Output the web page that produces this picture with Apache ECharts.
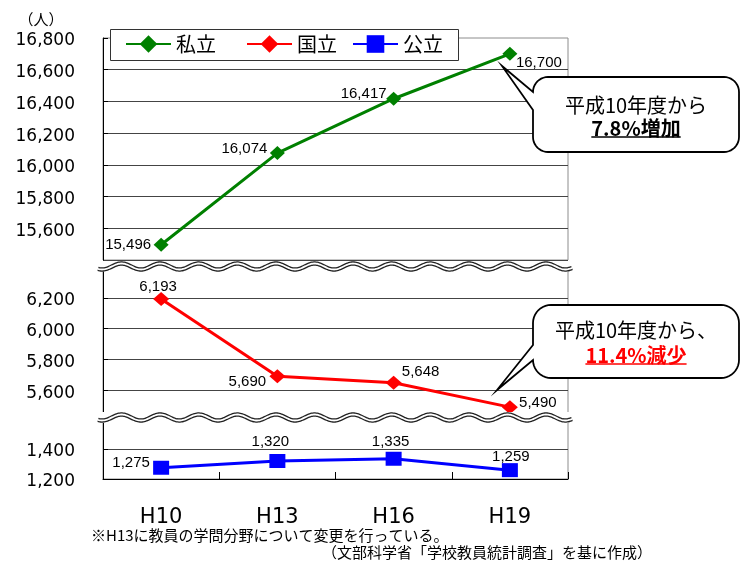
<!DOCTYPE html>
<html>
<head>
<meta charset="utf-8">
<script src="https://cdn.jsdelivr.net/npm/echarts@6/dist/echarts.min.js"></script>
<style>
  html, body { margin: 0; padding: 0; background: #fff; }
  #chart { width: 746px; height: 561px; }
</style>
</head>
<body>
<div id="chart"></div>
<script>
// ---- data ----
const categories = ['H10', 'H13', 'H16', 'H19'];
const seriesNames = ['私立', '国立', '公立'];
const privateValues = [15496, 16074, 16417, 16700];
const nationalValues = [6193, 5690, 5648, 5490];
const publicValues = [1275, 1320, 1335, 1259];

// value ranges of the three segments of the broken axis
const upperRange = [15400, 16800];
const middleRange = [5400, 6400];
const lowerRange = [1200, 1600];
const tickStep = 200;

const unitLabel = '（人）';
const noteLine1 = '※H13に教員の学問分野について変更を行っている。';
const noteLine2 = '（文部科学省「学校教員統計調査」を基に作成）';
const calloutUp = ['平成10年度から', '7.8%増加'];
const calloutDown = ['平成10年度から、', '11.4%減少'];

// ---- styling ----
const COLORS = ['#008000', '#ff0000', '#0000ff'];
const JP = '"Noto Sans CJK JP", sans-serif';
const NUM = '"Liberation Sans", Arial, sans-serif';
const AXNUM = '"DejaVu Sans", sans-serif';

// label placement (offset of each value label from its marker)
const privateLabelOffsets = [[-33, 0], [-33, -4], [-30, -5], [29, 9]];
const nationalLabelOffsets = [[-3, -12], [-30, 6], [27, -11], [28, -4]];
const publicLabelOffsets = [[-30, -5], [-7, -19], [-3, -17], [1, -13]];

// left edge of each legend entry inside the legend box
const legendLefts = [125, 246, 352];

const fmt = v => Number(v).toLocaleString('en-US');

const PLOT_LEFT = 103, PLOT_WIDTH = 465;
const grids = [
  { left: PLOT_LEFT, top: 38, width: PLOT_WIDTH, height: 222 },
  { left: PLOT_LEFT, top: 267, width: PLOT_WIDTH, height: 154 },
  { left: PLOT_LEFT, top: 419, width: PLOT_WIDTH, height: 60 }
].map(g => Object.assign(g, { show: true, borderColor: '#8c8c8c', borderWidth: 1 }));

function yLabel(extra) {
  return Object.assign({
    fontFamily: AXNUM, fontSize: 17, color: '#000', margin: 28,
    formatter: v => '{v|' + fmt(v) + '}',
    rich: { v: { fontFamily: AXNUM, fontSize: 17, color: '#000', padding: [6, 0, 0, 0] } }
  }, extra);
}

function yAxisFor(idx, range, opts) {
  return Object.assign({
    type: 'value', gridIndex: idx, min: range[0], max: range[1], interval: tickStep,
    axisLine: { show: true, lineStyle: { color: '#000', width: 1 } },
    axisTick: { show: true, inside: true, length: 5, lineStyle: { color: '#000' } },
    splitLine: { show: true, lineStyle: { color: '#444', width: 1 } },
    axisLabel: yLabel({})
  }, opts);
}

function xAxisFor(idx, visible) {
  return {
    type: 'category', gridIndex: idx, data: categories, boundaryGap: true,
    axisLine: { show: visible, lineStyle: { color: '#000', width: 1 } },
    axisTick: { show: visible, inside: true, length: 7, lineStyle: { color: '#000' } },
    axisLabel: { show: visible, fontFamily: AXNUM, fontSize: 21, color: '#000', margin: 28 },
    splitLine: { show: false }
  };
}

function lineSeries(i, values, offsets, symbol, symbolSize) {
  return {
    type: 'line', name: seriesNames[i], xAxisIndex: i, yAxisIndex: i,
    data: values.map((v, k) => ({ value: v, label: { offset: offsets[k] } })),
    symbol: symbol, symbolSize: symbolSize,
    lineStyle: { color: COLORS[i], width: 3 },
    itemStyle: { color: COLORS[i] },
    label: {
      show: true, position: 'inside', color: '#000', fontFamily: NUM, fontSize: 15,
      formatter: p => fmt(p.value)
    },
    emphasis: { disabled: true },
    z: 3
  };
}

// ---- decorations: wavy axis breaks ----
function wave(baseY, amp) {
  const pts = [];
  for (let x = 98; x <= 572; x += 1) {
    pts.push([x, baseY + amp * Math.cos(2 * Math.PI * (x - 218) / 38.6)]);
  }
  return pts;
}
function breakMark(maskTop, maskBottom, baseY) {
  const pts = wave(baseY, 3);
  return [
    { type: 'rect', z: 50, shape: { x: 96, y: maskTop, width: 478, height: maskBottom - maskTop },
      style: { fill: '#fff' }, silent: true },
    { type: 'polyline', z: 51, shape: { points: pts }, style: { stroke: '#222', lineWidth: 4.4, fill: null }, silent: true },
    { type: 'polyline', z: 52, shape: { points: pts }, style: { stroke: '#fff', lineWidth: 1.8, fill: null }, silent: true }
  ];
}

// ---- decorations: speech bubbles ----
function arcPts(cx, cy, r, a0, a1, out) {
  const n = 10;
  for (let k = 0; k <= n; k++) {
    const a = (a0 + (a1 - a0) * k / n) * Math.PI / 180;
    out.push([cx + r * Math.cos(a), cy + r * Math.sin(a)]);
  }
}
function bubble(x0, y0, x1, y1, r, tailLow, tip, tailHigh) {
  const p = [];
  arcPts(x1 - r, y0 + r, r, -90, 0, p);
  arcPts(x1 - r, y1 - r, r, 0, 90, p);
  arcPts(x0 + r, y1 - r, r, 90, 180, p);
  p.push([x0, tailLow], tip, [x0, tailHigh]);
  arcPts(x0 + r, y0 + r, r, 180, 270, p);
  return { type: 'polygon', z: 60, shape: { points: p },
    style: { fill: '#fff', stroke: '#000', lineWidth: 1.8 }, silent: true };
}

const measureCtx = document.createElement('canvas').getContext('2d');
function textWidth(str, font) { measureCtx.font = font; return measureCtx.measureText(str).width; }

function bubbleTexts(lines, cx, y1, y2, ulY, color) {
  const boldFont = 'bold 20px "Noto Sans CJK JP"';
  const w = textWidth(lines[1], boldFont);
  return [
    { type: 'text', z: 61, x: cx, y: y1, silent: true,
      style: { text: lines[0], fill: '#000', font: '20px ' + JP, align: 'center', verticalAlign: 'middle' } },
    { type: 'text', z: 61, x: cx, y: y2, silent: true,
      style: { text: lines[1], fill: color, font: 'bold 20px ' + JP, align: 'center', verticalAlign: 'middle' } },
    { type: 'line', z: 61, silent: true, shape: { x1: cx - w / 2, y1: ulY, x2: cx + w / 2, y2: ulY },
      style: { stroke: color, lineWidth: 1.6 } }
  ];
}

const graphics = [].concat(
  // frame behind the legend entries
  [{ type: 'rect', z: 5, silent: true, shape: { x: 110.5, y: 29.5, width: 348, height: 31 },
     style: { fill: '#fff', stroke: '#333', lineWidth: 1 } }],
  breakMark(262, 271.5, 266.5),
  breakMark(412, 423, 417.5),
  [bubble(533, 77, 739, 152, 15, 110, [502, 66], 92)],
  bubbleTexts(calloutUp, 636, 105, 128, 137, '#000'),
  [bubble(533, 305, 739, 378, 18, 360, [497, 390], 345)],
  bubbleTexts(calloutDown, 636, 330, 355, 364, '#ff0000'),
  [
    { type: 'text', z: 61, x: 41, y: 19, silent: true,
      style: { text: unitLabel, fill: '#000', font: '15px ' + JP, align: 'center', verticalAlign: 'middle' } },
    { type: 'text', z: 61, x: 91, y: 535, silent: true,
      style: { text: noteLine1, fill: '#000', font: '15px ' + JP, align: 'left', verticalAlign: 'middle' } },
    { type: 'text', z: 61, x: 652, y: 552, silent: true,
      style: { text: noteLine2, fill: '#000', font: '15px ' + JP, align: 'right', verticalAlign: 'middle' } }
  ]
);

// one legend component per entry so each sits at its own spot in the frame
const legends = seriesNames.map((name, i) => ({
  data: [name],
  left: legendLefts[i], top: 34,
  padding: 0,
  itemWidth: 45, itemHeight: 22,
  selectedMode: false,
  textStyle: { fontFamily: JP, fontSize: 20, color: '#000' },
  z: 10
}));

const chart = echarts.init(document.getElementById('chart'), null, { renderer: 'canvas' });
chart.setOption({
  animation: false,
  backgroundColor: '#fff',
  grid: grids,
  xAxis: [xAxisFor(0, false), xAxisFor(1, false), xAxisFor(2, true)],
  yAxis: [
    yAxisFor(0, upperRange, {
      axisLabel: yLabel({ showMinLabel: false }),
      splitLine: { show: true, showMaxLine: false, lineStyle: { color: '#444', width: 1 } }
    }),
    yAxisFor(1, middleRange, { axisLabel: yLabel({ showMinLabel: false, showMaxLabel: false }) }),
    yAxisFor(2, lowerRange, { axisLabel: yLabel({ showMaxLabel: false }) })
  ],
  legend: legends,
  series: [
    lineSeries(0, privateValues, privateLabelOffsets, 'diamond', [15, 14]),
    lineSeries(1, nationalValues, nationalLabelOffsets, 'diamond', [16, 14]),
    lineSeries(2, publicValues, publicLabelOffsets, 'rect', [16, 14])
  ],
  graphic: { elements: graphics }
});
</script>
</body>
</html>
